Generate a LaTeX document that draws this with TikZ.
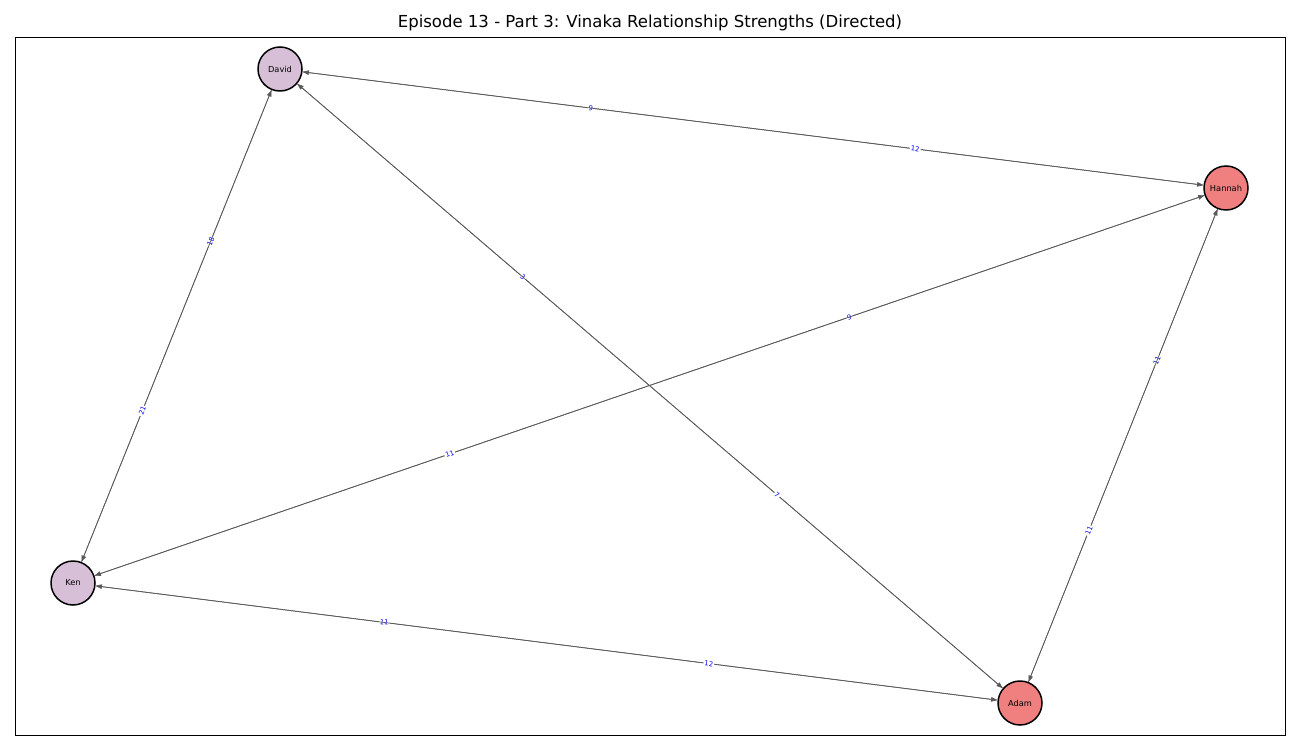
\documentclass[tikz,border=0pt]{standalone}
\usepackage{fontspec}
\setmainfont{DejaVu Sans}
\usetikzlibrary{arrows.meta}
\begin{document}
\begin{tikzpicture}[
  person/.style={circle, draw=black, line width=0.85pt, minimum size=0.88cm, inner sep=0pt, font=\fontsize{4.7}{5}\selectfont},
  tie/.style={draw=black!65, line width=0.4pt, -{Triangle[length=3.6pt, width=2.6pt]}},
  weight/.style={sloped, fill=white, inner sep=0.6pt, text=blue, font=\fontsize{3.9}{4}\selectfont}
]
\useasboundingbox (0,0) rectangle (26,15);
\draw[line width=0.55pt] (0.3,0.3) rectangle (25.7,14.26);
\node[font=\fontsize{9.4}{11}\selectfont] (title) at (13,14.54) {Episode 13 - Part 3: Vinaka Relationship Strengths (Directed)};

\node[person, fill={rgb,255:red,216;green,191;blue,216}] (david) at (5.6,13.62) {David};
\node[person, fill={rgb,255:red,240;green,128;blue,128}] (hannah) at (24.52,11.24) {Hannah};
\node[person, fill={rgb,255:red,216;green,191;blue,216}] (ken) at (1.46,3.34) {Ken};
\node[person, fill={rgb,255:red,240;green,128;blue,128}] (adam) at (20.4,0.94) {Adam};

% each pair of ties lies on the same line
\draw[tie] (hannah) -- (david) node[weight, pos=0.68] {9};
\draw[tie] (david) -- (hannah) node[weight, pos=0.68] {12};
\draw[tie] (ken) -- (david) node[weight, pos=0.68] {18};
\draw[tie] (david) -- (ken) node[weight, pos=0.68] {21};
\draw[tie] (adam) -- (david) node[weight, pos=0.68] {3};
\draw[tie] (david) -- (adam) node[weight, pos=0.68] {7};
\draw[tie] (ken) -- (hannah) node[weight, pos=0.68] {9};
\draw[tie] (hannah) -- (ken) node[weight, pos=0.68] {11};
\draw[tie] (adam) -- (hannah) node[weight, pos=0.68] {11};
\draw[tie] (hannah) -- (adam) node[weight, pos=0.68] {11};
\draw[tie] (adam) -- (ken) node[weight, pos=0.68] {11};
\draw[tie] (ken) -- (adam) node[weight, pos=0.68] {12};
\end{tikzpicture}
\end{document}
